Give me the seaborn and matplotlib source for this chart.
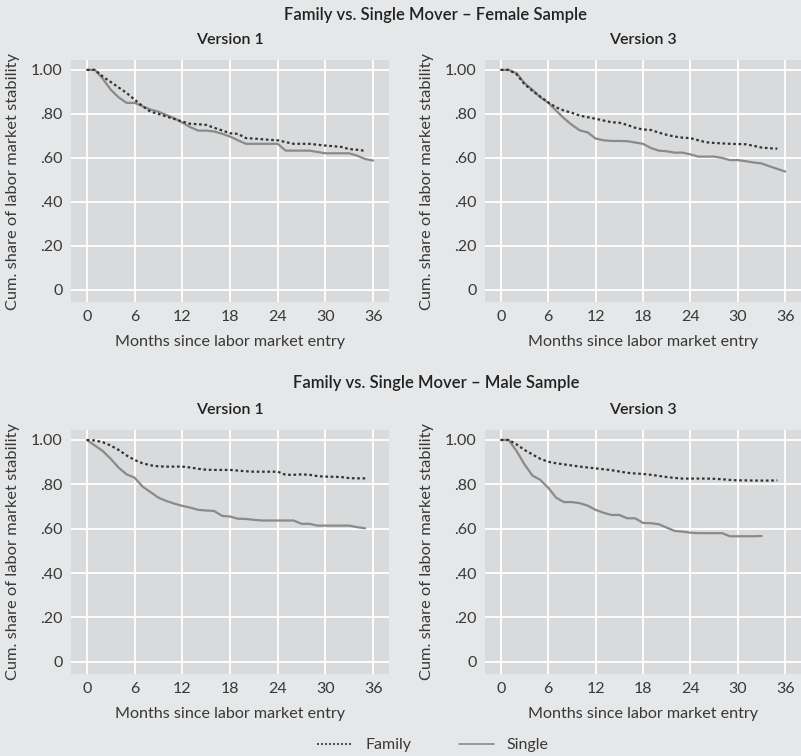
import pandas as pd
import seaborn as sns
from matplotlib import pyplot as plt
from matplotlib.lines import Line2D

# Data (cum. share by month since entry)
fem_v1_family = [1.0, 1.0, 0.97, 0.945, 0.92, 0.895, 0.865, 0.835, 0.81, 0.80, 0.788, 0.777,
                 0.765, 0.755, 0.753, 0.75, 0.737, 0.725, 0.712, 0.709, 0.69, 0.688, 0.685, 0.682,
                 0.68, 0.672, 0.664, 0.664, 0.664, 0.66, 0.656, 0.653, 0.65, 0.64, 0.637, 0.632]
fem_v1_single = [1.0, 1.0, 0.96, 0.91, 0.875, 0.85, 0.85, 0.835, 0.82, 0.81, 0.795, 0.78,
                 0.76, 0.74, 0.724, 0.724, 0.72, 0.71, 0.697, 0.68, 0.664, 0.664, 0.664, 0.664,
                 0.664, 0.633, 0.633, 0.633, 0.633, 0.627, 0.621, 0.621, 0.621, 0.621, 0.61, 0.595, 0.588]
fem_v3_family = [1.0, 1.0, 0.98, 0.935, 0.905, 0.879, 0.852, 0.83, 0.815, 0.805, 0.792, 0.785,
                 0.778, 0.77, 0.762, 0.76, 0.75, 0.737, 0.729, 0.727, 0.715, 0.705, 0.697, 0.692,
                 0.69, 0.68, 0.671, 0.668, 0.666, 0.664, 0.663, 0.662, 0.655, 0.647, 0.644, 0.642]
fem_v3_single = [1.0, 1.0, 0.985, 0.94, 0.91, 0.875, 0.851, 0.815, 0.78, 0.75, 0.725, 0.716,
                 0.688, 0.68, 0.677, 0.677, 0.676, 0.67, 0.664, 0.645, 0.633, 0.63, 0.624, 0.624,
                 0.616, 0.606, 0.606, 0.606, 0.6, 0.59, 0.59, 0.585, 0.579, 0.575, 0.562, 0.55, 0.538]
male_v1_family = [1.0, 0.998, 0.99, 0.975, 0.955, 0.93, 0.91, 0.895, 0.886, 0.881, 0.88, 0.88,
                  0.88, 0.876, 0.87, 0.866, 0.865, 0.865, 0.865, 0.862, 0.859, 0.857, 0.857, 0.857,
                  0.857, 0.843, 0.843, 0.845, 0.843, 0.837, 0.835, 0.834, 0.833, 0.828, 0.827, 0.827]
male_v1_single = [1.0, 0.975, 0.95, 0.915, 0.875, 0.845, 0.83, 0.79, 0.765, 0.74, 0.725, 0.713,
                  0.703, 0.695, 0.685, 0.682, 0.68, 0.658, 0.655, 0.645, 0.644, 0.64, 0.637, 0.637,
                  0.637, 0.637, 0.637, 0.622, 0.622, 0.614, 0.614, 0.614, 0.614, 0.614, 0.607, 0.602]
male_v3_family = [1.0, 1.0, 0.98, 0.955, 0.935, 0.915, 0.902, 0.895, 0.89, 0.885, 0.88, 0.876,
                  0.872, 0.868, 0.864, 0.858, 0.852, 0.849, 0.847, 0.843, 0.838, 0.833, 0.829, 0.826,
                  0.826, 0.826, 0.826, 0.825, 0.823, 0.82, 0.818, 0.818, 0.817, 0.817, 0.817, 0.818]
male_v3_single = [1.0, 1.0, 0.95, 0.89, 0.84, 0.82, 0.785, 0.74, 0.72, 0.72, 0.715, 0.704,
                  0.685, 0.672, 0.662, 0.662, 0.647, 0.647, 0.626, 0.625, 0.62, 0.605, 0.59, 0.587,
                  0.582, 0.58, 0.58, 0.58, 0.58, 0.566, 0.566, 0.566, 0.566, 0.567]

x_ticks = [0, 6, 12, 18, 24, 30, 36]
y_ticks = [0, 0.2, 0.4, 0.6, 0.8, 1.0]
y_ticklabels = ['0', '.20', '.40', '.60', '.80', '1.00']

panels = [
    ('Version 1', fem_v1_family, fem_v1_single, [71, 60, 389, 302]),
    ('Version 3', fem_v3_family, fem_v3_single, [485, 60, 801, 302]),
    ('Version 1', male_v1_family, male_v1_single, [71, 430, 389, 674]),
    ('Version 3', male_v3_family, male_v3_single, [485, 430, 801, 674]),
]

fig_bg = '#e6e7e8'
ax_bg = '#d9dadb'
fam_color = '#333333'
sin_color = '#8a8a8a'
txt_color = '#383838'

sns.set_theme(style='darkgrid', rc={'axes.facecolor': ax_bg, 'figure.facecolor': fig_bg,
                                     'grid.color': 'white', 'grid.linewidth': 1.3})
plt.rcParams['font.family'] = ['Lato', 'DejaVu Sans']

W, H = 801, 756
fig = plt.figure(figsize=(W / 100, H / 100), dpi=100)

for title, fam, sin, (l, t, r, b) in panels:
    ax = fig.add_axes([l / W, 1 - b / H, (r - l) / W, (b - t) / H])
    df = pd.concat([
        pd.DataFrame({'month': range(len(fam)), 'share': fam, 'group': 'Family'}),
        pd.DataFrame({'month': range(len(sin)), 'share': sin, 'group': 'Single'}),
    ])
    sns.lineplot(data=df[df.group == 'Single'], x='month', y='share', ax=ax,
                 color=sin_color, linewidth=1.6)
    sns.lineplot(data=df[df.group == 'Family'], x='month', y='share', ax=ax,
                 color=fam_color, linewidth=1.6, linestyle=(0, (1.2, 1.2)))
    ax.set_xlim(-2, 38)
    ax.set_ylim(-0.055, 1.045)
    ax.set_xticks(x_ticks)
    ax.set_yticks(y_ticks)
    ax.set_yticklabels(y_ticklabels)
    ax.tick_params(axis='both', length=0, labelsize=11.5, labelcolor=txt_color)
    ax.tick_params(axis='x', pad=6)
    ax.tick_params(axis='y', pad=6)
    for s in ax.spines.values():
        s.set_visible(False)
    ax.set_xlabel('Months since labor market entry', fontsize=11.6, color=txt_color, labelpad=8)
    ax.set_ylabel('Cum. share of labor market stability', fontsize=11.8, color=txt_color)
    ax.yaxis.set_label_coords(-0.16, 0.5)
    fig.text((l + r) / 2 / W, 1 - (t - 20) / H, title, ha='center', va='center',
             fontsize=11.5, color='#222222', fontweight='semibold')

fig.text(436 / W, 1 - 15 / H, 'Family vs. Single Mover \u2013 Female Sample', ha='center',
         va='center', fontsize=12, color='#222222', fontweight='semibold')
fig.text(436 / W, 1 - 383 / H, 'Family vs. Single Mover \u2013 Male Sample', ha='center',
         va='center', fontsize=12, color='#222222', fontweight='semibold')

handles = [Line2D([], [], color=fam_color, linewidth=1.2, linestyle=(0, (1.2, 1.2))),
           Line2D([], [], color=sin_color, linewidth=1.2)]
fig.legend(handles, ['Family', 'Single'], loc='center', bbox_to_anchor=(433 / W, 1 - 745 / H),
           ncol=2, frameon=False, fontsize=11.5, handlelength=2.2, columnspacing=3,
           labelcolor=txt_color)

fig.savefig('out.png', dpi=100, facecolor=fig_bg)
